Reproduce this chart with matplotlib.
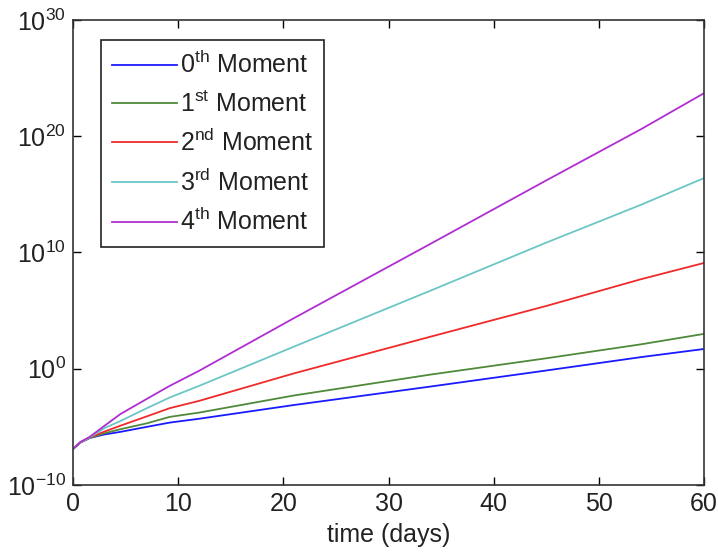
import numpy as np
import matplotlib
matplotlib.use("Agg")
import matplotlib.pyplot as plt
from matplotlib.ticker import FixedLocator, LogFormatterMathtext, NullLocator

plt.rcParams["font.family"] = ["Liberation Sans", "DejaVu Sans"]
plt.rcParams["mathtext.default"] = "regular"

# time (days) and log10 of each moment
t = [0, 0.7, 1.6, 3, 4.5, 7, 9.2, 12, 21, 34, 45, 54, 60]
m0 = [-6.9, -6.35, -5.95, -5.65, -5.43, -5.0, -4.63, -4.3, -3.12, -1.53, -0.15, 1.0, 1.7]
m1 = [-6.9, -6.35, -5.95, -5.55, -5.2, -4.7, -4.14, -3.77, -2.3, -0.5, 0.9, 2.1, 3.0]
m2 = [-6.9, -6.35, -5.9, -5.4, -4.9, -4.1, -3.39, -2.76, -0.4, 2.76, 5.4, 7.7, 9.1]
m3 = [-6.9, -6.35, -5.9, -5.1, -4.5, -3.4, -2.47, -1.47, 1.9, 6.72, 10.85, 14.1, 16.4]
m4 = [-6.9, -6.3, -5.85, -4.9, -3.9, -2.6, -1.47, -0.17, 4.35, 10.75, 16.2, 20.6, 23.7]

labels = ["0$^{th}$ Moment", "1$^{st}$ Moment", "2$^{nd}$ Moment",
          "3$^{rd}$ Moment", "4$^{th}$ Moment"]
colors = ["#1a1aff", "#4f8a3a", "#f02a2a", "#6cc6c6", "#b02ed0"]
yticks = [1e-10, 1e0, 1e10, 1e20, 1e30]

fig = plt.figure(figsize=(7.18, 5.58), dpi=100)
ax = fig.add_axes([0.1017, 0.1308, 0.8788, 0.8334])

for series, lab, col in zip([m0, m1, m2, m3, m4], labels, colors):
    ax.plot(t, 10.0 ** np.array(series), color=col, lw=1.3, label=lab)

ax.set_yscale("log")
ax.set_xlim(0, 60)
ax.set_ylim(1e-10, 1e30)
ax.yaxis.set_major_locator(FixedLocator(yticks))
ax.yaxis.set_major_formatter(LogFormatterMathtext())
ax.yaxis.set_minor_locator(NullLocator())
ax.set_xticks([0, 10, 20, 30, 40, 50, 60])

ax.tick_params(direction="in", top=True, right=True, length=6, width=1,
               labelsize=18, pad=5, labelcolor="#222222")
for s in ax.spines.values():
    s.set_linewidth(1.2)
    s.set_color("#333333")

ax.set_xlabel("time (days)", fontsize=18, labelpad=5, color="#222222")

leg = ax.legend(loc="upper left", bbox_to_anchor=(0.044, 0.957), fontsize=18,
                fancybox=False, edgecolor="#222222", framealpha=1,
                handlelength=2.6, handletextpad=0.1, labelspacing=0.5,
                borderpad=0.45, borderaxespad=0)
leg.get_frame().set_linewidth(1.2)
for txt in leg.get_texts():
    txt.set_color("#222222")

fig.savefig("out.png", dpi=100)
